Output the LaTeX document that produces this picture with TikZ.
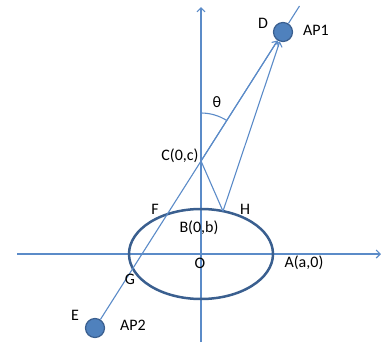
\documentclass[tikz,border=0pt]{standalone}
\usepackage{fontspec}
\setmainfont{Carlito}
\usetikzlibrary{arrows.meta,calc}
\definecolor{lineblue}{HTML}{5B8BC8}
\definecolor{darkblue}{HTML}{3A5F8F}
\definecolor{fillblue}{HTML}{4F81BD}
\begin{document}
\begin{tikzpicture}[x=1pt,y=-1pt,
  conn/.style={draw=lineblue,line width=1.1pt},
  arr/.style={conn,-{Straight Barb[length=4pt,width=8pt]}},
  ap/.style={circle,draw=darkblue,line width=1.2pt,fill=fillblue,minimum size=19pt,inner sep=0pt},
  lbl/.style={font=\fontsize{16}{16}\selectfont,text=black,inner sep=0pt,anchor=center}]
\useasboundingbox (0,0) rectangle (381,343);
% coordinates
\coordinate (O) at (201,254);
\coordinate (C) at (201,161);
\coordinate (H) at (223,211.2);
\coordinate (axL) at (17,254);
\coordinate (axR) at (381,254);
\coordinate (axT) at (201,7);
\coordinate (axB) at (201,342);
\coordinate (ext) at (299.5,6);
% axes
\draw[arr] (axL) -- (axR);
\draw[arr] (axB) -- (axT);
% ellipse
\draw[darkblue,line width=2.5pt] (O) ellipse [x radius=72,y radius=45];
% AP nodes
\node[ap] (D) at (283,32) {};
\node[ap] (E) at (95,328) {};
% lines
\draw[conn] (E) -- (D);
\draw[conn] (D) -- (ext);
\draw[arr] (C) -- (D);
\draw[conn] (C) -- (H);
\draw[arr] (H) -- (D);
% theta arc
\draw[conn] ([shift={(-90:48)}]C) arc[start angle=-90,end angle=-57.6,radius=48];
% labels
\node[lbl] (lD) at (263,23) {D};
\node[lbl] (lAP1) at (316,30) {AP1};
\node[lbl] (lth) at (217,102) {θ};
\node[lbl] (lC) at (180,156) {C(0,c)};
\node[lbl] (lF) at (155,209) {F};
\node[lbl] (lH) at (245,209) {H};
\node[lbl] (lB) at (199,228) {B(0,b)};
\node[lbl] (lO) at (200,263) {O};
\node[lbl] (lA) at (304,263) {A(a,0)};
\node[lbl] (lG) at (130,279) {G};
\node[lbl] (lE) at (75,315) {E};
\node[lbl] (lAP2) at (133,325) {AP2};
\end{tikzpicture}
\end{document}
